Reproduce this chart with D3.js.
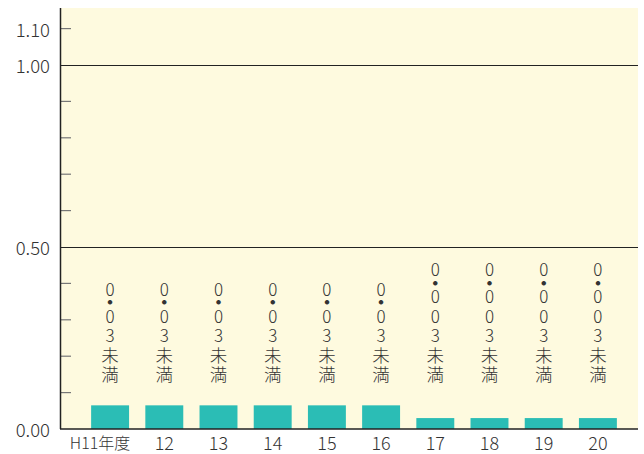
<!DOCTYPE html>
<html>
<head>
<meta charset="utf-8">
<script src="https://cdn.jsdelivr.net/npm/d3@7"></script>
<style>
  body { margin: 0; background: #fff; }
  text { font-family: "Noto Sans CJK JP", "Noto Sans", sans-serif; font-weight: 300; fill: #333; }
</style>
</head>
<body>
<div id="chart"></div>
<script>
// --- data ---
const years = ["H11年度", "12", "13", "14", "15", "16", "17", "18", "19", "20"];
const values = [0.065, 0.065, 0.065, 0.065, 0.065, 0.065, 0.03, 0.03, 0.03, 0.03];
const notes = ["0・03未満", "0・03未満", "0・03未満", "0・03未満", "0・03未満", "0・03未満",
               "0・003未満", "0・003未満", "0・003未満", "0・003未満"];
const yTickLabels = [0, 0.5, 1.0, 1.1];
const yMinorTicks = [0.1, 0.2, 0.3, 0.4, 0.6, 0.7, 0.8, 0.9, 1.1];
const gridValues = [0.5, 1.0];

const width = 644, height = 454;
const margin = { top: 8, right: 6, bottom: 25, left: 60 };

const svg = d3.select("#chart").append("svg")
  .attr("width", width)
  .attr("height", height);

const y = d3.scaleLinear()
  .domain([0, 1.1566])
  .range([height - margin.bottom, margin.top]);

const x = d3.scaleBand()
  .domain(years)
  .range([83, 625])
  .paddingInner(0.3)
  .paddingOuter(0.15);

// plot background
svg.append("rect")
  .attr("x", margin.left)
  .attr("y", margin.top)
  .attr("width", width - margin.right - margin.left)
  .attr("height", y(0) - margin.top)
  .attr("fill", "#fefadf");

// minor ticks (inside)
svg.append("g").selectAll("line")
  .data(yMinorTicks)
  .join("line")
  .attr("x1", margin.left)
  .attr("x2", margin.left + 11)
  .attr("y1", d => y(d))
  .attr("y2", d => y(d))
  .attr("stroke", "#777")
  .attr("stroke-width", 1.2);

// gridlines
svg.append("g").selectAll("line")
  .data(gridValues)
  .join("line")
  .attr("x1", margin.left)
  .attr("x2", width - margin.right)
  .attr("y1", d => Math.round(y(d)) + 0.5)
  .attr("y2", d => Math.round(y(d)) + 0.5)
  .attr("stroke", "#222")
  .attr("stroke-width", 1);

// bars
svg.append("g").selectAll("rect")
  .data(values)
  .join("rect")
  .attr("x", (d, i) => x(years[i]))
  .attr("width", x.bandwidth())
  .attr("y", d => y(d))
  .attr("height", d => y(0) - y(d))
  .attr("fill", "#2bbdb5");

// vertical notes: one text per column, one tspan per character, bottoms aligned
const noteBottom = 373;
svg.append("g").selectAll("text")
  .data(notes)
  .join("text")
  .attr("text-anchor", "middle")
  .attr("dominant-baseline", "central")
  .each(function (s, i) {
    const chars = Array.from(s);
    const pos = [0];
    for (let k = 1; k < chars.length; k++) {
      const step = (chars[k] === "・" || chars[k - 1] === "・") ? 13.5 : 19.5;
      pos.push(pos[k - 1] + step);
    }
    const shift = noteBottom - pos[pos.length - 1];
    const cx = x(years[i]) + x.bandwidth() / 2;
    d3.select(this).selectAll("tspan")
      .data(chars)
      .join("tspan")
      .attr("x", cx)
      .attr("y", (c, k) => pos[k] + shift)
      .attr("font-size", c => /[0-9]/.test(c) ? 17 : 17.5)
      .attr("font-weight", c => c === "・" ? 700 : 300)
      .text(c => c);
  });

// axes lines
svg.append("line")
  .attr("x1", margin.left + 0.5).attr("x2", margin.left + 0.5)
  .attr("y1", margin.top).attr("y2", y(0))
  .attr("stroke", "#222").attr("stroke-width", 1.5);
svg.append("line")
  .attr("x1", margin.left).attr("x2", width - margin.right)
  .attr("y1", y(0)).attr("y2", y(0))
  .attr("stroke", "#222").attr("stroke-width", 1.5);

// y labels
svg.append("g").selectAll("text")
  .data(yTickLabels)
  .join("text")
  .attr("x", 50)
  .attr("y", d => y(d))
  .attr("text-anchor", "end")
  .attr("dominant-baseline", "central")
  .attr("font-size", 18.5)
  .text(d => d3.format(".2f")(d));

// x labels
svg.append("g").selectAll("text")
  .data(years)
  .join("text")
  .attr("x", d => x(d) + x.bandwidth() / 2)
  .attr("dx", (d, i) => i === 0 ? -10 : 0)
  .attr("y", 442)
  .attr("text-anchor", "middle")
  .attr("dominant-baseline", "central")
  .attr("font-size", (d, i) => i === 0 ? 16 : 18)
  .text(d => d);
</script>
</body>
</html>
